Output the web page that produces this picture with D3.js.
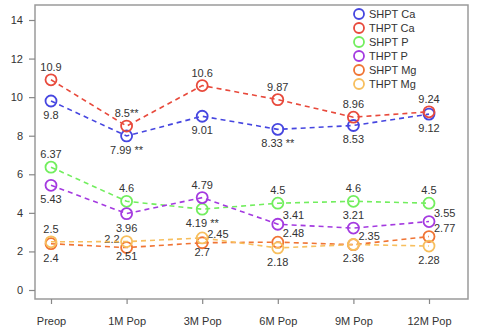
<!DOCTYPE html>
<html>
<head>
<meta charset="utf-8">
<script src="https://cdn.jsdelivr.net/npm/d3@7"></script>
<style>
  body { margin: 0; background: #fff; }
  text { font-family: "Liberation Sans", Arial, sans-serif; fill: #333; }
</style>
</head>
<body>
<script>
let width = 477,
    height = 333;

let categories = ["Preop", "1M Pop", "3M Pop", "6M Pop", "9M Pop", "12M Pop"];
let yTicks = [0, 2, 4, 6, 8, 10, 12, 14];

let seriesNames = ["SHPT Ca", "THPT Ca", "SHPT P", "THPT P", "SHPT Mg", "THPT Mg"];
let colors = ["#4646e0", "#e84a3c", "#72ee5e", "#a43ae0", "#f07434", "#f7bf5e"];

let shptCa = [9.8, 7.99, 9.01, 8.33, 8.53, 9.12];
let thptCa = [10.9, 8.5, 10.6, 9.87, 8.96, 9.24];
let shptP  = [6.37, 4.6, 4.19, 4.5, 4.6, 4.5];
let thptP  = [5.43, 3.96, 4.79, 3.41, 3.21, 3.55];
let shptMg = [2.4, 2.2, 2.45, 2.48, 2.35, 2.77];
let thptMg = [2.5, 2.51, 2.7, 2.18, 2.36, 2.28];

// significance marks on labels
let shptCaStars = ["", " **", "", " **", "", ""];
let thptCaStars = ["", "**", "", "", "", ""];
let shptPStars  = ["", "", " **", "", "", ""];

// where each label sits: t = top, b = bottom, r = right, l = left
let shptCaPos = ["b", "b", "b", "b", "b", "b"];
let thptCaPos = ["t", "t", "t", "t", "t", "t"];
let shptPPos  = ["t", "t", "b", "t", "t", "t"];
let thptPPos  = ["b", "b", "t", "r", "t", "r"];
let shptMgPos = ["b", "l", "r", "r", "r", "r"];
let thptMgPos = ["t", "b", "b", "b", "b", "b"];

let series = [
  { values: shptCa, stars: shptCaStars, pos: shptCaPos },
  { values: thptCa, stars: thptCaStars, pos: thptCaPos },
  { values: shptP,  stars: shptPStars,  pos: shptPPos },
  { values: thptP,  stars: null,        pos: thptPPos },
  { values: shptMg, stars: null,        pos: shptMgPos },
  { values: thptMg, stars: null,        pos: thptMgPos }
];

let svg = d3.select("body")
    .append("svg")
    .attr("width", width)
    .attr("height", height);

let x = d3.scalePoint()
    .domain(categories)
    .range([51, 429]);

let y = d3.scaleLinear()
    .domain([0, 14])
    .range([290, 20]);

// frame
svg.append("rect")
    .attr("x", 35)
    .attr("y", 5)
    .attr("width", 433)
    .attr("height", 294)
    .attr("fill", "none")
    .attr("stroke", "#9a9a9a")
    .attr("stroke-width", 1.5);

let yAxis = svg.append("g")
    .attr("transform", "translate(35,0)")
    .call(d3.axisLeft(y).tickValues(yTicks).tickSize(6).tickPadding(6));
yAxis.select(".domain").remove();

let xAxis = svg.append("g")
    .attr("transform", "translate(0,299)")
    .call(d3.axisBottom(x).tickSize(5).tickPadding(13));
xAxis.select(".domain").remove();

svg.selectAll(".tick line").attr("stroke", "#888").attr("stroke-width", 1.2);
svg.selectAll(".tick text")
    .style("font-size", "11px")
    .style("font-family", "Liberation Sans, Arial, sans-serif")
    .attr("fill", "#333");

let line = d3.line()
    .x((d, i) => x(categories[i]))
    .y(d => y(d));

series.forEach((s, k) => {
  let g = svg.append("g");

  g.append("path")
      .datum(s.values)
      .attr("d", line)
      .attr("fill", "none")
      .attr("stroke", colors[k])
      .attr("stroke-width", 1.6)
      .attr("stroke-dasharray", "5,4");

  g.selectAll("circle")
      .data(s.values)
      .enter()
      .append("circle")
      .attr("cx", (d, i) => x(categories[i]))
      .attr("cy", d => y(d))
      .attr("r", 5.5)
      .attr("fill", "none")
      .attr("stroke", colors[k])
      .attr("stroke-width", 1.8);

  g.selectAll("text")
      .data(s.values)
      .enter()
      .append("text")
      .attr("x", (d, i) => {
        let p = s.pos[i];
        if (p === "r") return x(categories[i]) + 5;
        if (p === "l") return x(categories[i]) - 7;
        return x(categories[i]);
      })
      .attr("y", (d, i) => {
        let p = s.pos[i];
        if (p === "t") return y(d) - 9;
        if (p === "b") return y(d) + 18;
        return y(d) - 5;
      })
      .attr("text-anchor", (d, i) => {
        let p = s.pos[i];
        if (p === "r") return "start";
        if (p === "l") return "end";
        return "middle";
      })
      .style("font-size", "11px")
      .text((d, i) => d + (s.stars ? s.stars[i] : ""));
});

// legend
let legend = svg.append("g");
seriesNames.forEach((name, k) => {
  legend.append("circle")
      .attr("cx", 359)
      .attr("cy", 14 + k * 14)
      .attr("r", 5)
      .attr("fill", "none")
      .attr("stroke", colors[k])
      .attr("stroke-width", 1.8);
  legend.append("text")
      .attr("x", 369)
      .attr("y", 18 + k * 14)
      .style("font-size", "11px")
      .text(name);
});
</script>
</body>
</html>
